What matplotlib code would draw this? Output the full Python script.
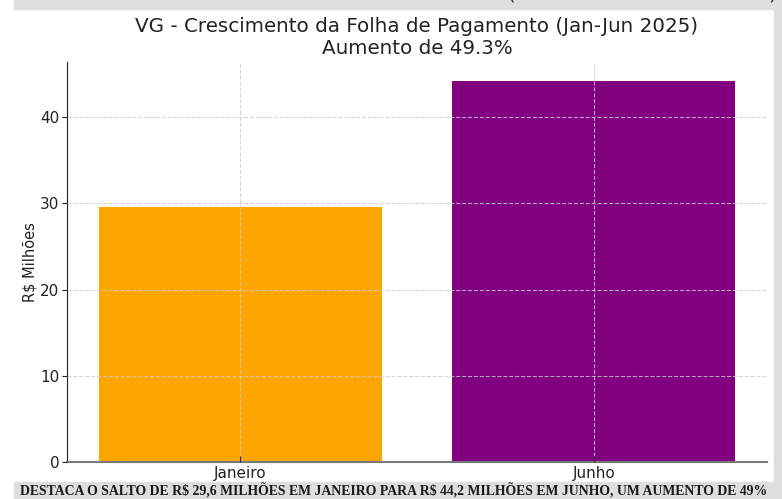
import matplotlib.pyplot as plt
from matplotlib.patches import Rectangle

meses = ["Janeiro", "Junho"]
valores = [29.6, 44.2]
cores = ["#FFA500", "#800080"]
titulo = "VG - Crescimento da Folha de Pagamento (Jan-Jun 2025)\nAumento de 49.3%"
legenda = "DESTACA O SALTO DE R$ 29,6 MILHÕES EM JANEIRO PARA R$ 44,2 MILHÕES EM JUNHO, UM AUMENTO DE 49%"

W, H = 782, 499
fig = plt.figure(figsize=(W / 100, H / 100), dpi=100, facecolor="white")

# moldura cinza do print (faixa de cima, direita e de baixo)
cinza = "#dedede"
fig.patches.append(Rectangle((14 / W, 1 - 9 / H), 1, 9 / H, transform=fig.transFigure, color=cinza, zorder=0))
fig.patches.append(Rectangle((774 / W, 0), 8 / W, 1, transform=fig.transFigure, color=cinza, zorder=0))
fig.patches.append(Rectangle((14 / W, 0), 1, 17 / H, transform=fig.transFigure, color=cinza, zorder=0))
fig.text(511 / W, 1 + 0.012, "(", ha="center", va="center", fontsize=14, color="#333333")
fig.text(772 / W, 1 + 0.012, ")", ha="center", va="center", fontsize=14, color="#333333")

ax = fig.add_axes([67 / W, 1 - 462 / H, 700 / W, 400 / H])
ax.set_facecolor("white")
ax.bar(meses, valores, color=cores, width=0.8, zorder=1)
ax.grid(True, linestyle="--", color="#cccccc", linewidth=0.8, alpha=0.8, zorder=3)
ax.set_axisbelow(False)
ax.set_title(titulo, fontsize=14.3, color="#222222", pad=6)
ax.set_ylabel("R$ Milhões", fontsize=10.5, color="#222222", labelpad=2)
ax.tick_params(labelsize=11, colors="#222222")
ax.tick_params(axis="y", length=3.5, pad=2)
ax.tick_params(axis="x", direction="in", length=4, pad=3)
ax.spines["top"].set_visible(False)
ax.spines["right"].set_visible(False)
ax.spines["bottom"].set_color("#777777")
ax.spines["bottom"].set_linewidth(1.5)
ax.spines["left"].set_color("#222222")

t = fig.text(394 / W, 8.5 / H, legenda, ha="center", va="center", fontsize=11,
             family="Liberation Serif", weight="bold", color="#1a1a1a", parse_math=False)
fig.canvas.draw()
larg = t.get_window_extent().width
t.set_fontsize(11 * 750 / larg)

fig.savefig("out.png", dpi=100, facecolor=fig.get_facecolor())
